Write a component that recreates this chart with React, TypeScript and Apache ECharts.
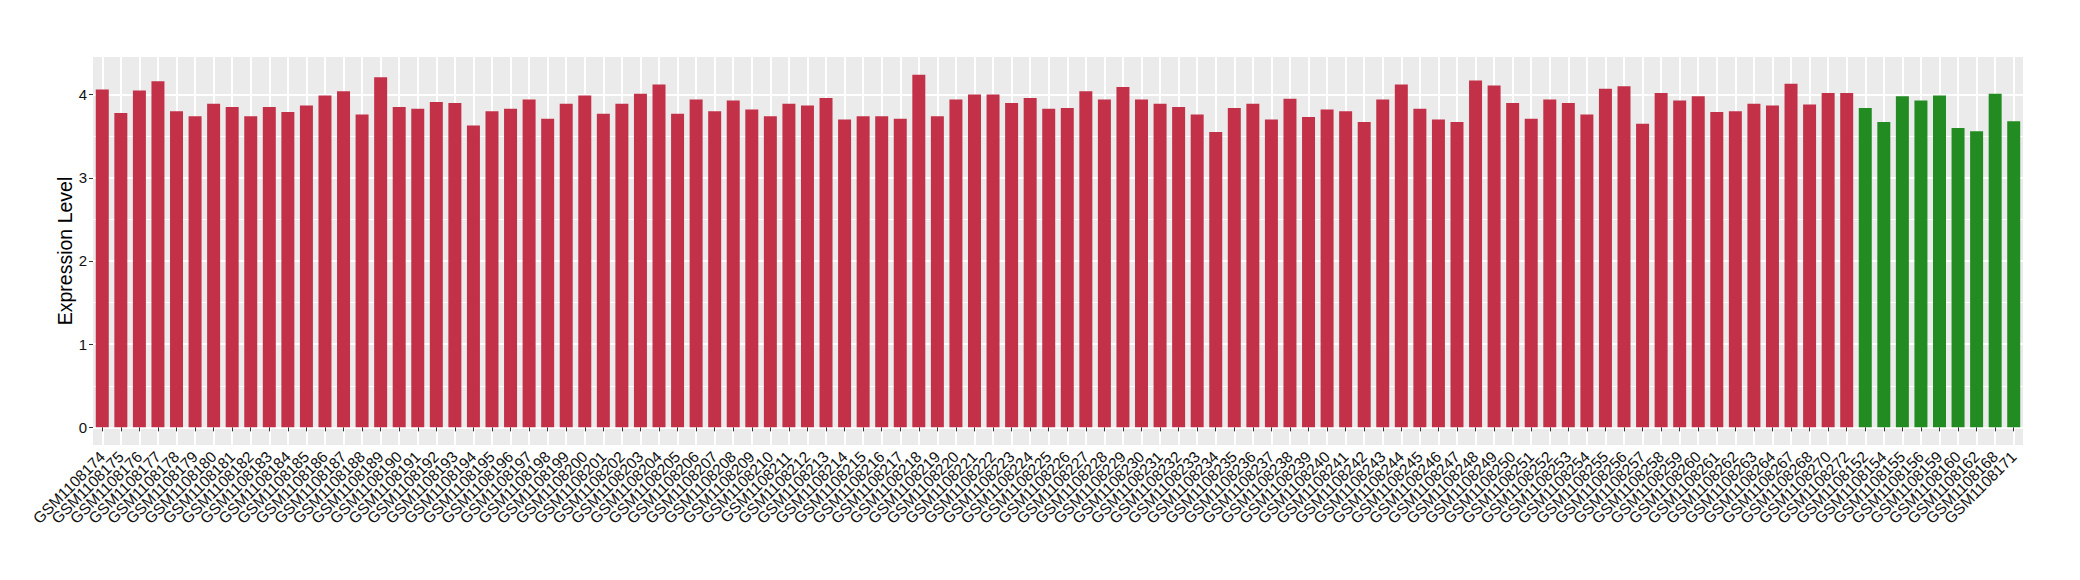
import React, { useEffect, useRef } from "react";
import * as echarts from "echarts";

const redSamples = [
  "GSM1108174","GSM1108175","GSM1108176","GSM1108177","GSM1108178","GSM1108179","GSM1108180","GSM1108181","GSM1108182","GSM1108183",
  "GSM1108184","GSM1108185","GSM1108186","GSM1108187","GSM1108188","GSM1108189","GSM1108190","GSM1108191","GSM1108192","GSM1108193",
  "GSM1108194","GSM1108195","GSM1108196","GSM1108197","GSM1108198","GSM1108199","GSM1108200","GSM1108201","GSM1108202","GSM1108203",
  "GSM1108204","GSM1108205","GSM1108206","GSM1108207","GSM1108208","GSM1108209","GSM1108210","GSM1108211","GSM1108212","GSM1108213",
  "GSM1108214","GSM1108215","GSM1108216","GSM1108217","GSM1108218","GSM1108219","GSM1108220","GSM1108221","GSM1108222","GSM1108223",
  "GSM1108224","GSM1108225","GSM1108226","GSM1108227","GSM1108228","GSM1108229","GSM1108230","GSM1108231","GSM1108232","GSM1108233",
  "GSM1108234","GSM1108235","GSM1108236","GSM1108237","GSM1108238","GSM1108239","GSM1108240","GSM1108241","GSM1108242","GSM1108243",
  "GSM1108244","GSM1108245","GSM1108246","GSM1108247","GSM1108248","GSM1108249","GSM1108250","GSM1108251","GSM1108252","GSM1108253",
  "GSM1108254","GSM1108255","GSM1108256","GSM1108257","GSM1108258","GSM1108259","GSM1108260","GSM1108261","GSM1108262","GSM1108263",
  "GSM1108264","GSM1108267","GSM1108268","GSM1108270","GSM1108272"
];
const redValues = [
  4.06,3.78,4.05,4.16,3.80,3.74,3.89,3.85,3.74,3.85,
  3.79,3.87,3.99,4.04,3.76,4.21,3.85,3.83,3.91,3.90,
  3.63,3.80,3.83,3.94,3.71,3.89,3.99,3.77,3.89,4.01,
  4.12,3.77,3.94,3.80,3.93,3.82,3.74,3.89,3.87,3.96,
  3.70,3.74,3.74,3.71,4.24,3.74,3.94,4.00,4.00,3.90,
  3.96,3.83,3.84,4.04,3.94,4.09,3.94,3.89,3.85,3.76,
  3.55,3.84,3.89,3.70,3.95,3.73,3.82,3.80,3.67,3.94,
  4.12,3.83,3.70,3.67,4.17,4.11,3.90,3.71,3.94,3.90,
  3.76,4.07,4.10,3.65,4.02,3.93,3.98,3.79,3.80,3.89,
  3.87,4.13,3.88,4.02,4.02
];
const greenSamples = [
  "GSM1108152","GSM1108154","GSM1108155","GSM1108156","GSM1108159","GSM1108160","GSM1108162","GSM1108168","GSM1108171"
];
const greenValues = [3.84,3.67,3.98,3.93,3.99,3.60,3.56,4.01,3.68];

const yTickLabels = [0, 1, 2, 3, 4];

const RED = "#C33149";
const GREEN = "#228B22";

export default function App() {
  const ref = useRef<HTMLDivElement>(null);
  useEffect(() => {
    document.body.style.margin = "0";
    if (!ref.current) return;
    const chart = echarts.init(ref.current, null, { renderer: "svg" });
    const categories = [...redSamples, ...greenSamples];
    const data = [
      ...redValues.map((v) => ({ value: v, itemStyle: { color: RED } })),
      ...greenValues.map((v) => ({ value: v, itemStyle: { color: GREEN } })),
    ];
    const allVals = [...redValues, ...greenValues];
    const maxV = Math.max(...allVals);
    const pad = maxV * 0.05;
    chart.setOption({
      animation: false,
      backgroundColor: "#ffffff",
      textStyle: { fontFamily: "Liberation Sans, Arial, sans-serif" },
      grid: {
        left: 93,
        right: 57,
        top: 57,
        bottom: 135,
        show: true,
        backgroundColor: "#EBEBEB",
        borderWidth: 0,
      },
      xAxis: {
        type: "category",
        data: categories,
        axisLine: { show: false },
        axisTick: {
          show: true,
          alignWithLabel: true,
          interval: 0,
          length: 4,
          lineStyle: { color: "#333333", width: 1 },
        },
        axisLabel: {
          interval: 0,
          rotate: 45,
          margin: 9,
          fontSize: 15.5,
          color: "#111111",
          fontFamily: "Liberation Sans, Arial, sans-serif",
        },
        splitLine: {
          show: true,
          interval: 0,
          alignWithLabel: true,
          lineStyle: { color: "#ffffff", width: 2 },
        },
      },
      yAxis: {
        type: "value",
        min: -pad,
        max: maxV + pad,
        splitNumber: 5,
        name: "Expression Level",
        nameLocation: "middle",
        nameGap: 18,
        nameMoveOverlap: false,
        nameTextStyle: {
          fontSize: 19.5,
          color: "#000000",
          fontFamily: "Liberation Sans, Arial, sans-serif",
        },
        axisLine: { show: false },
        axisTick: {
          show: true,
          length: 4,
          customValues: yTickLabels,
          lineStyle: { color: "#333333", width: 1 },
        },
        axisLabel: {
          customValues: yTickLabels,
          margin: 6,
          fontSize: 15,
          color: "#111111",
          fontFamily: "Liberation Sans, Arial, sans-serif",
        },
        splitLine: { show: true, lineStyle: { color: "#ffffff", width: 2 } },
        minorTick: { show: false, splitNumber: 2 },
        minorSplitLine: { show: true, lineStyle: { color: "#ffffff", width: 1 } },
      },
      series: [
        {
          type: "bar",
          data,
          barWidth: "70%",
        },
      ],
    });
    return () => chart.dispose();
  }, []);
  return <div ref={ref} style={{ width: 2080, height: 580 }} />;
}
